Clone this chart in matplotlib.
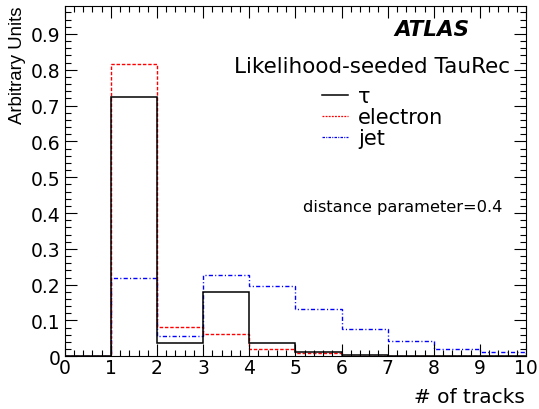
import matplotlib
matplotlib.use("Agg")
import matplotlib.pyplot as plt
from matplotlib.ticker import MultipleLocator
from matplotlib.lines import Line2D

plt.rcParams['font.family'] = ['DejaVu Sans']

edges = [0, 1, 2, 3, 4, 5, 6, 7, 8, 9, 10]
tau = [0.0, 0.723, 0.037, 0.180, 0.037, 0.013, 0.004, 0.001, 0.0, 0.0]
electron = [0.0, 0.817, 0.082, 0.062, 0.021, 0.008, 0.002, 0.001, 0.0, 0.0]
jet = [0.0, 0.220, 0.056, 0.228, 0.196, 0.133, 0.075, 0.042, 0.020, 0.012]
labels = ["τ", "electron", "jet"]
xticks = list(range(0, 11))
yticks = [0, 0.1, 0.2, 0.3, 0.4, 0.5, 0.6, 0.7, 0.8, 0.9]
yticklabels = ['0', '0.1', '0.2', '0.3', '0.4', '0.5', '0.6', '0.7', '0.8', '0.9']

ls_el = (0, (2.5, 1.3))
ls_jet = (0, (3, 1.6, 0.8, 1.6))

fig = plt.figure(figsize=(5.39, 4.10), dpi=100)
ax = fig.add_axes([0.120, 0.1285, 0.856, 0.8544])

ax.stairs(jet, edges, color='#0000ff', lw=1.0, linestyle=ls_jet, baseline=0)
ax.stairs(electron, edges, color='#ff0000', lw=1.0, linestyle=ls_el, baseline=0)
ax.stairs(tau, edges, color='black', lw=1.1, linestyle='-', baseline=0)

ax.set_xlim(0, 10)
ax.set_ylim(0, 0.978)
ax.xaxis.set_minor_locator(MultipleLocator(0.2))
ax.yaxis.set_minor_locator(MultipleLocator(0.02))
ax.set_xticks(xticks)
ax.set_xticklabels([str(i) for i in xticks])
ax.set_yticks(yticks)
ax.set_yticklabels(yticklabels)
ax.tick_params(which='both', direction='in', top=True, right=True, labelsize=13.5, width=0.8)
ax.tick_params(which='major', length=8.6)
ax.tick_params(which='minor', length=4)
ax.tick_params(axis='y', pad=3)
ax.tick_params(axis='x', pad=1.5)
for s in ax.spines.values():
    s.set_linewidth(0.8)

fig.text(0.974, 1 - 402.7 / 410, "# of tracks", ha='right', va='baseline', fontsize=14.5)
fig.text(0.032, 0.983, "Arbitrary Units", ha='center', va='top', rotation=90,
         fontsize=13.4, family=['Liberation Sans', 'DejaVu Sans'])

fig.text(0.8707, 0.928, "ATLAS", ha='right', va='center', fontsize=15.5,
         fontweight='bold', fontstyle='italic')
fig.text(0.946, 1 - 73.3 / 410, "Likelihood-seeded TauRec", ha='right', va='baseline', fontsize=15.5)
fig.text(0.932, 0.495, "distance parameter=0.4", ha='right', va='center', fontsize=11.7)

leg_handles = [Line2D([], [], color='black', lw=1.1),
               Line2D([], [], color='#ff0000', lw=0.9, linestyle=(0, (1.5, 1.0))),
               Line2D([], [], color='#0000ff', lw=0.9, linestyle=(0, (2, 1, 0.8, 1)))]
fig.legend(leg_handles, labels, loc='upper left', bbox_to_anchor=(0.597, 0.788), frameon=False,
           fontsize=15, handlelength=1.28, handletextpad=0.47, labelspacing=0.06,
           borderpad=0, borderaxespad=0)

fig.savefig("out.png", dpi=100)
